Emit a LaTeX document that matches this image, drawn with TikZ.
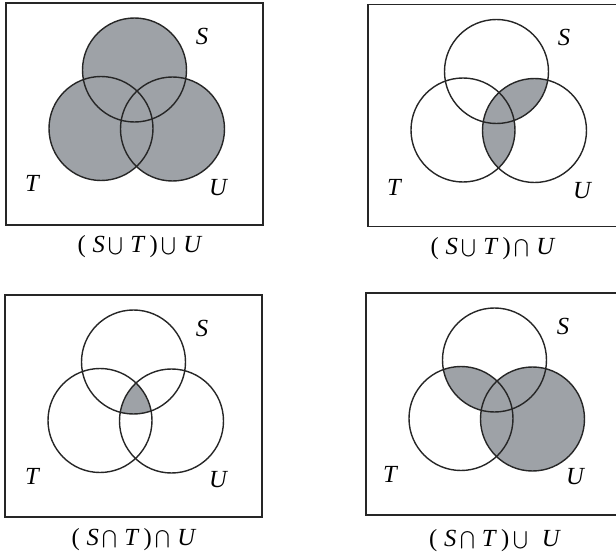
\documentclass[tikz,border=0pt]{standalone}
\usepackage{fontspec}
\setmainfont{Liberation Serif}
\usepackage{tkz-euclide}
\definecolor{VennClr}{RGB}{158,162,167}
\tikzset{setlbl/.style={font=\fontsize{14}{16}\selectfont\itshape},
         caplbl/.style={font=\fontsize{14}{16}\selectfont}}

\begin{document}
\begin{tikzpicture}[x=0.02cm,y=-0.02cm]
\useasboundingbox (0,0) rectangle (616,554);

% (S u T) u U
\begin{scope}[shift={(6,3)}]
\tkzDefPoints{0/0/P,257/222/Q,128.5/67/S,95/125.5/T,166.5/126/U,180.5/67/s,147/125.5/t,218.5/126/u}
\tkzFillCircle[fill=VennClr](S,s)
\tkzFillCircle[fill=VennClr](T,t)
\tkzFillCircle[fill=VennClr](U,u)
\tkzDrawCircles[line width=0.8pt,color=black!85](S,s T,t U,u)
\draw[line width=1.1pt,color=black!85] (P) rectangle (Q);
\node[setlbl] (lSa) at (196,33) {S};
\node[setlbl] (lTa) at (26,180) {T};
\node[setlbl] (lUa) at (212,185) {U};
\node[caplbl] (capa) at (134,244) {(\;\textit{S}\,$\bigcup$\;\textit{T}\,)\,$\bigcup$\;\textit{U}};
\end{scope}

% (S u T) n U
\begin{scope}[shift={(368,4.5)}]
\tkzDefPoints{0/0/P,257/222/Q,128.5/67/S,95/125.5/T,166.5/126/U,180.5/67/s,147/125.5/t,218.5/126/u}
\begin{scope}
\tkzClipCircle(U,u)
\tkzFillCircle[fill=VennClr](S,s)
\tkzFillCircle[fill=VennClr](T,t)
\end{scope}
\tkzDrawCircles[line width=0.8pt,color=black!85](S,s T,t U,u)
\draw[line width=1.1pt,color=black!85] (P) rectangle (Q);
\node[setlbl] (lSb) at (196,33) {S};
\node[setlbl] (lTb) at (26,183) {T};
\node[setlbl] (lUb) at (214,186) {U};
\node[caplbl] (capb) at (125,244) {(\;\textit{S}\,$\bigcup$\;\textit{T}\,)\,$\bigcap$\;\textit{U}};
\end{scope}

% (S n T) n U
\begin{scope}[shift={(5,295)}]
\tkzDefPoints{0/0/P,257/222/Q,128.5/67/S,95/125.5/T,166.5/126/U,180.5/67/s,147/125.5/t,218.5/126/u}
\begin{scope}
\tkzClipCircle(S,s)
\tkzClipCircle(T,t)
\tkzFillCircle[fill=VennClr](U,u)
\end{scope}
\tkzDrawCircles[line width=0.8pt,color=black!85](S,s T,t U,u)
\draw[line width=1.1pt,color=black!85] (P) rectangle (Q);
\node[setlbl] (lSc) at (197,33) {S};
\node[setlbl] (lTc) at (27,181) {T};
\node[setlbl] (lUc) at (213,185) {U};
\node[caplbl] (capc) at (129,245) {(\;\textit{S}\,$\bigcap$\;\textit{T}\,)\,$\bigcap$\;\textit{U}};
\end{scope}

% (S n T) u U
\begin{scope}[shift={(366,293)}]
\tkzDefPoints{0/0/P,257/222/Q,128.5/67/S,95/125.5/T,166.5/126/U,180.5/67/s,147/125.5/t,218.5/126/u}
\tkzFillCircle[fill=VennClr](U,u)
\begin{scope}
\tkzClipCircle(S,s)
\tkzFillCircle[fill=VennClr](T,t)
\end{scope}
\tkzDrawCircles[line width=0.8pt,color=black!85](S,s T,t U,u)
\draw[line width=1.1pt,color=black!85] (P) rectangle (Q);
\node[setlbl] (lSd) at (197,33) {S};
\node[setlbl] (lTd) at (24,181) {T};
\node[setlbl] (lUd) at (209,184) {U};
\node[caplbl] (capd) at (129,248) {(\;\textit{S}\,$\bigcap$\;\textit{T}\,)\,$\bigcup$\;\;\textit{U}};
\end{scope}

\end{tikzpicture}
\end{document}
